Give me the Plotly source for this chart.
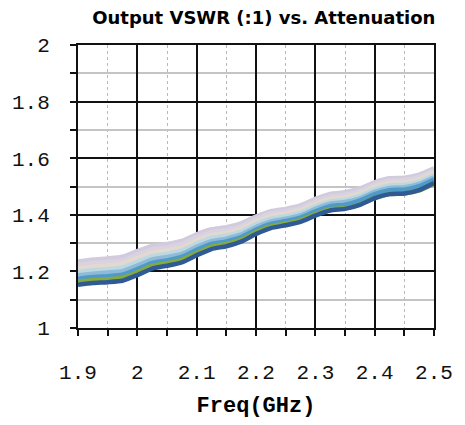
import plotly.graph_objects as go

freq = [1.9, 1.925, 1.95, 1.975, 2.0, 2.025, 2.05, 2.075, 2.1, 2.125, 2.15, 2.175, 2.2,
        2.225, 2.25, 2.275, 2.3, 2.325, 2.35, 2.375, 2.4, 2.425, 2.45, 2.475, 2.5]

vswr_s7 = [1.235, 1.242, 1.246, 1.252, 1.272, 1.290, 1.297, 1.308, 1.331, 1.349, 1.356, 1.370, 1.394,
           1.413, 1.421, 1.433, 1.456, 1.474, 1.480, 1.493, 1.515, 1.529, 1.531, 1.542, 1.564]
vswr_s6 = [1.223, 1.230, 1.233, 1.239, 1.259, 1.278, 1.285, 1.297, 1.320, 1.339, 1.346, 1.360, 1.385,
           1.404, 1.412, 1.424, 1.447, 1.465, 1.471, 1.484, 1.507, 1.521, 1.523, 1.534, 1.556]
vswr_s5 = [1.210, 1.217, 1.221, 1.227, 1.247, 1.266, 1.274, 1.285, 1.309, 1.328, 1.336, 1.351, 1.375,
           1.395, 1.404, 1.416, 1.438, 1.456, 1.462, 1.476, 1.498, 1.512, 1.514, 1.526, 1.548]
vswr_s4 = [1.198, 1.205, 1.208, 1.214, 1.234, 1.254, 1.262, 1.274, 1.298, 1.318, 1.326, 1.341, 1.366,
           1.386, 1.395, 1.407, 1.429, 1.447, 1.453, 1.467, 1.490, 1.504, 1.506, 1.517, 1.541]
vswr_s3 = [1.186, 1.192, 1.196, 1.201, 1.221, 1.242, 1.251, 1.262, 1.287, 1.307, 1.316, 1.331, 1.357,
           1.377, 1.386, 1.398, 1.421, 1.439, 1.445, 1.458, 1.481, 1.495, 1.497, 1.509, 1.533]
vswr_s2 = [1.174, 1.180, 1.183, 1.188, 1.208, 1.230, 1.239, 1.251, 1.276, 1.297, 1.306, 1.321, 1.348,
           1.368, 1.378, 1.390, 1.412, 1.430, 1.436, 1.450, 1.473, 1.487, 1.489, 1.501, 1.525]
vswr_s1 = [1.163, 1.169, 1.172, 1.177, 1.197, 1.219, 1.229, 1.241, 1.265, 1.287, 1.297, 1.312, 1.339,
           1.359, 1.369, 1.381, 1.402, 1.420, 1.423, 1.436, 1.459, 1.473, 1.475, 1.486, 1.510]
vswr_s0 = [1.153, 1.159, 1.162, 1.167, 1.187, 1.210, 1.220, 1.232, 1.257, 1.279, 1.289, 1.305, 1.332,
           1.353, 1.363, 1.375, 1.397, 1.415, 1.421, 1.435, 1.459, 1.473, 1.475, 1.487, 1.512]

series = [vswr_s7, vswr_s6, vswr_s5, vswr_s4, vswr_s3, vswr_s2, vswr_s1, vswr_s0]
colors = ["#d2cbde", "#d9d2e0", "#e3d9cf", "#bcd9e2", "#8fbbd9", "#4f9ac6", "#86ab3c", "#2f5a94"]

x_ticks = [1.9, 2.0, 2.1, 2.2, 2.3, 2.4, 2.5]
x_labels = ["1.9", "2", "2.1", "2.2", "2.3", "2.4", "2.5"]
y_ticks = [1.0, 1.2, 1.4, 1.6, 1.8, 2.0]
y_labels = ["1", "1.2", "1.4", "1.6", "1.8", "2"]

fig = go.Figure()
for ys, c in zip(series, colors):
    fig.add_trace(go.Scatter(x=freq, y=ys, mode="lines",
                             line=dict(color=c, width=4.5, shape="spline", smoothing=0.55),
                             showlegend=False, hoverinfo="skip"))

tick_font = dict(family="Liberation Mono", size=21, color="#111")

fig.update_layout(
    width=465, height=425,
    margin=dict(l=76, r=25, t=45, b=90),
    paper_bgcolor="white", plot_bgcolor="white",
    title=dict(text="Output VSWR (:1) vs. Attenuation",
               font=dict(family="DejaVu Sans", size=18, color="black", weight="bold"),
               xref="paper", x=(266 - 76) / 364, xanchor="center",
               yref="container", y=1 - 18 / 425, yanchor="middle"),
    xaxis=dict(range=[1.9, 2.5], tickmode="array", tickvals=x_ticks, ticktext=x_labels,
               showgrid=True, gridcolor="#111", gridwidth=2,
               showline=True, linecolor="#111", linewidth=2, mirror=True,
               ticks="outside", ticklen=6, tickwidth=2, tickcolor="#111",
               tickfont=tick_font, ticklabelstandoff=18, zeroline=False,
               minor=dict(dtick=0.05, tick0=1.9, ticks="outside", ticklen=6, tickwidth=2,
                          tickcolor="#111", showgrid=True, gridcolor="#b8b8b8",
                          griddash="dot", gridwidth=1),
               title=dict(text="Freq(GHz)", standoff=12,
                          font=dict(family="Liberation Mono", size=22, color="black", weight="bold"))),
    yaxis=dict(range=[1.0, 2.0], tickmode="array", tickvals=y_ticks, ticktext=y_labels,
               showgrid=True, gridcolor="#111", gridwidth=2,
               showline=True, linecolor="#111", linewidth=2, mirror=True,
               ticks="outside", ticklen=6, tickwidth=2, tickcolor="#111",
               tickfont=tick_font, ticklabelstandoff=16, zeroline=False,
               minor=dict(dtick=0.1, tick0=1.0, ticks="outside", ticklen=6, tickwidth=2,
                          tickcolor="#111", showgrid=True, gridcolor="#c4c4c4", gridwidth=2)),
)

fig.write_html("out.html")
